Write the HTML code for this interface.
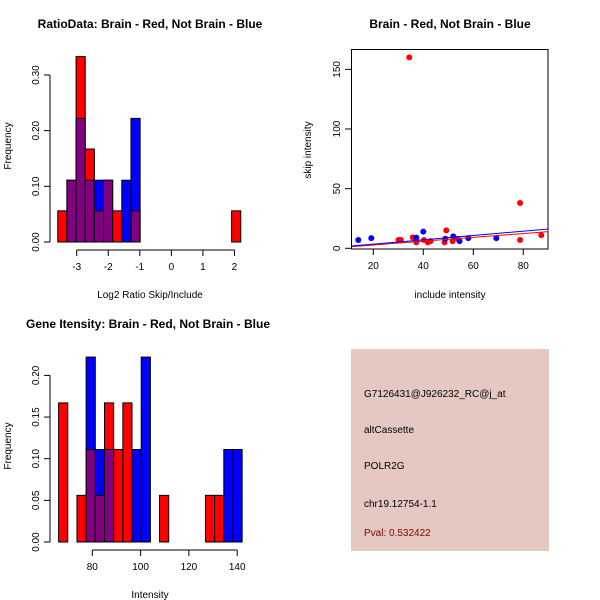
<!DOCTYPE html>
<html><head><meta charset="utf-8"><style>
body{margin:0;background:#fff;}
svg{display:block;font-family:"Liberation Sans",Arial,sans-serif;}
.t{font-weight:bold;font-size:12px;}
.l{font-size:10px;}
</style></head><body>
<svg id="c" width="600" height="600" viewBox="0 0 600 600"></svg>
<script>
// ---- Ratio histogram data ----
const ratioBinStart = -3.6;
const ratioBinWidth = 0.29;
const ratioRed = [0.056,0.111,0.333,0.167,0.056,0.111,0.056,0,0.056,0,0,0,0,0,0,0,0,0,0,0.056];
const ratioBlue = [0,0.111,0.222,0.111,0.111,0.111,0,0.111,0.222,0,0,0,0,0,0,0,0,0,0,0];
const ratioXTicks = [-3,-2,-1,0,1,2];
const ratioYTicks = [0,0.1,0.2,0.3];
const ratioYLabels = ["0.00","0.10","0.20","0.30"];
// ---- Intensity histogram data ----
const intBinStart = 66.05;
const intBinWidth = 3.8;
const intRed = [0.167,0,0.056,0.111,0.056,0.167,0.111,0.167,0,0,0,0.056,0,0,0,0,0.056,0.056,0,0];
const intBlue = [0,0,0,0.222,0.111,0.111,0,0,0.111,0.222,0,0,0,0,0,0,0,0,0.111,0.111];
const intXTicks = [80,100,120,140];
const intYTicks = [0,0.05,0.1,0.15,0.2];
const intYLabels = ["0.00","0.05","0.10","0.15","0.20"];
// ---- Scatter data ----
const redX = [34.4,30.1,31,35.8,37.2,40.3,41.8,42.9,48.5,49.2,51.7,53.7,78.7,78.7,87.2];
const redY = [160,7,7,9.2,5,7,5,6,5,15,6,8,38,7,11];
const blueX = [14,19.2,37.2,40,48.8,52,54.5,58,69.2];
const blueY = [7,8.5,9,14,8,10,6,8.5,8.5];
const redFit = [-0.43,0.16];
const blueFit = [-0.17,0.182];
const scXTicks = [20,40,60,80];
const scYTicks = [0,50,100,150];

const svg = document.getElementById('c');
const NS = 'http://www.w3.org/2000/svg';
function mk(tag, attrs, text){
  const e = document.createElementNS(NS, tag);
  for (const k in attrs) e.setAttribute(k, attrs[k]);
  if (text !== undefined) e.textContent = text;
  svg.appendChild(e);
  return e;
}
function nm(e, n, i){
  
  
  return e;
}

function hist(o){
  const sx = v => o.x0 + (v - o.xv0) * o.kx;
  const sy = v => o.base - v * o.ky;
  for (let i = 0; i < o.red.length; i++){
    const a = o.binStart + i * o.binW, b = a + o.binW;
    const r = o.red[i], bl = o.blue[i];
    const mx = Math.max(r, bl), mn = Math.min(r, bl);
    if (mx > 0){
      const e = mk('rect', {x:sx(a), y:sy(mx), width:sx(b)-sx(a), height:sy(0)-sy(mx), fill: r>=bl?'#ff0000':'#0000ff', stroke:'#000', 'stroke-width':1});
      nm(e, (r>=bl?'red':'blue') + '-bar-' + i, false);
    }
    if (mn > 0){
      const e = mk('rect', {x:sx(a), y:sy(mn), width:sx(b)-sx(a), height:sy(0)-sy(mn), fill:'#800080', stroke:'#000', 'stroke-width':1});
      nm(e, 'overlap-bar-' + i, false);
    }
  }
  nm(mk('line', {x1:sx(o.xTicks[0]), x2:sx(o.xTicks[o.xTicks.length-1]), y1:o.axY, y2:o.axY, stroke:'#000'}), 'x-axis-line', false);
  o.xTicks.forEach(t => {
    nm(mk('line', {x1:sx(t), x2:sx(t), y1:o.axY, y2:o.axY+6, stroke:'#000'}), 'x-tick', false);
    nm(mk('text', {x:sx(t), y:o.axY+20, 'text-anchor':'middle', class:'l'}, String(t)), 'x-tick-label', false);
  });
  nm(mk('line', {x1:o.yAxX, x2:o.yAxX, y1:sy(o.yTicks[0]), y2:sy(o.yTicks[o.yTicks.length-1]), stroke:'#000'}), 'y-axis-line', false);
  o.yTicks.forEach((t, i) => {
    nm(mk('line', {x1:o.yAxX-6, x2:o.yAxX, y1:sy(t), y2:sy(t), stroke:'#000'}), 'y-tick', false);
    nm(mk('text', {x:o.yAxX-11, y:sy(t), 'text-anchor':'middle', class:'l', transform:`rotate(-90 ${o.yAxX-11} ${sy(t)})`}, o.yLabels[i]), 'y-tick-label', false);
  });
  nm(mk('text', {x:o.tx, y:o.ty, 'text-anchor':'middle', class:'t'}, o.title), 'chart-title', false);
  nm(mk('text', {x:o.xLabX, y:o.xLabY, 'text-anchor':'middle', class:'l'}, o.xLab), 'x-axis-title', false);
  nm(mk('text', {x:11, y:o.yLabY, 'text-anchor':'middle', class:'l', transform:`rotate(-90 11 ${o.yLabY})`}, 'Frequency'), 'y-axis-title', false);
}

hist({red:ratioRed, blue:ratioBlue, binStart:ratioBinStart, binW:ratioBinWidth,
  x0:76.7, xv0:-3, kx:31.55, base:242, ky:556.7, axY:250, yAxX:50,
  xTicks:ratioXTicks, yTicks:ratioYTicks, yLabels:ratioYLabels,
  title:'RatioData: Brain - Red, Not Brain - Blue', tx:150, ty:28,
  xLab:'Log2 Ratio Skip/Include', xLabX:150, xLabY:298, yLabY:146});

hist({red:intRed, blue:intBlue, binStart:intBinStart, binW:intBinWidth,
  x0:92.3, xv0:80, kx:2.415, base:542, ky:833, axY:550, yAxX:50,
  xTicks:intXTicks, yTicks:intYTicks, yLabels:intYLabels,
  title:'Gene Itensity: Brain - Red, Not Brain - Blue', tx:148, ty:328,
  xLab:'Intensity', xLabX:150, xLabY:598, yLabY:446});

// ---- Scatter ----
const px = v => 373.3 + (v - 20) * 2.5;
const py = v => 248.3 - v * 1.193;
nm(mk('rect', {x:351.5, y:49.5, width:196.5, height:199.5, fill:'none', stroke:'#000'}), 'scatter-plot-frame', false);
scXTicks.forEach(t => {
  nm(mk('line', {x1:px(t), x2:px(t), y1:249, y2:255, stroke:'#000'}), 'x-tick', false);
  nm(mk('text', {x:px(t), y:269, 'text-anchor':'middle', class:'l'}, String(t)), 'x-tick-label', false);
});
scYTicks.forEach(t => {
  nm(mk('line', {x1:345, x2:351.5, y1:py(t), y2:py(t), stroke:'#000'}), 'y-tick', false);
  nm(mk('text', {x:340, y:py(t), 'text-anchor':'middle', class:'l', transform:`rotate(-90 340 ${py(t)})`}, String(t)), 'y-tick-label', false);
});
function fit(f, col, n){
  nm(mk('line', {x1:px(11.4), y1:py(f[0]+f[1]*11.4), x2:px(90.1), y2:py(f[0]+f[1]*90.1), stroke:col, 'stroke-width':1}), n, false);
}
redX.forEach((x, i) => nm(mk('circle', {cx:px(x), cy:py(redY[i]), r:3, fill:'#ff0000'}), 'red-point', false));
blueX.forEach((x, i) => nm(mk('circle', {cx:px(x), cy:py(blueY[i]), r:3, fill:'#0000ff'}), 'blue-point', false));
fit(redFit, '#ff0000', 'red-fit-line');
fit(blueFit, '#0000ff', 'blue-fit-line');
nm(mk('text', {x:450, y:28, 'text-anchor':'middle', class:'t'}, 'Brain - Red, Not Brain - Blue'), 'scatter-title', false);
nm(mk('text', {x:450, y:298, 'text-anchor':'middle', class:'l'}, 'include intensity'), 'x-axis-title', false);
nm(mk('text', {x:311, y:150, 'text-anchor':'middle', class:'l', transform:'rotate(-90 311 150)'}, 'skip intensity'), 'y-axis-title', false);

// ---- Info box ----
nm(mk('rect', {x:351, y:349, width:198, height:202, fill:'#e5c8c1'}), 'info-box', false);
const info = [['G7126431@J926232_RC@j_at',397,'#000','probe-id'],['altCassette',433,'#000','event-type'],['POLR2G',469,'#000','gene-name'],['chr19.12754-1.1',507,'#000','locus'],['Pval: 0.532422',536,'#8b0000','p-value']];
info.forEach(r => nm(mk('text', {x:364, y:r[1], class:'l', fill:r[2]}, r[0]), r[3], false));
</script>
</body></html>
